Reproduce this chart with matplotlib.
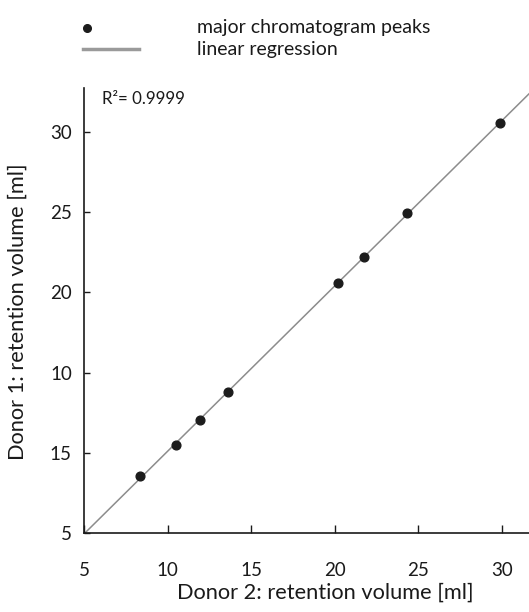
import numpy as np
import matplotlib
matplotlib.use("Agg")
import matplotlib.pyplot as plt
from matplotlib.lines import Line2D

plt.rcParams['font.family'] = ['Lato', 'DejaVu Sans']

# retention volumes of the major chromatogram peaks [ml]
donor2 = [8.34, 10.47, 11.93, 13.60, 20.19, 21.75, 24.32, 29.89]
donor1 = [8.55, 10.48, 12.04, 13.80, 20.58, 22.21, 24.94, 30.55]

tick_pos = [5, 10, 15, 20, 25, 30]
x_labels = ["5", "10", "15", "20", "25", "30"]
y_labels = ["5", "15", "10", "20", "25", "30"]  # as printed in the original figure
r2_text = "R\u00b2= 0.9999"

fig = plt.figure(figsize=(5.29, 6.12), dpi=100)
ax = fig.add_axes([0.1594, 0.129, 0.8406, 0.727])

xlim = (5, 31.63)
ylim = (5, 32.73)

# regression line
slope, intercept = np.polyfit(donor2, donor1, 1)
xs = np.array(xlim)
ax.plot(xs, slope * xs + intercept, color='#8c8c8c', lw=1.1, zorder=1)
ax.plot(donor2, donor1, 'o', color='#1c1c1c', markersize=6.3, zorder=2)

ax.set_xlim(*xlim)
ax.set_ylim(*ylim)
ax.spines['top'].set_visible(False)
ax.spines['right'].set_visible(False)
for s in ['left', 'bottom']:
    ax.spines[s].set_linewidth(1.2)
    ax.spines[s].set_color('#1a1a1a')

ax.set_xticks(tick_pos)
ax.set_xticklabels(x_labels)
ax.set_yticks(tick_pos)
ax.set_yticklabels(y_labels)
ax.tick_params(axis='x', direction='in', length=6, width=1, pad=21, labelsize=13.5, colors='#1a1a1a')
ax.tick_params(axis='y', direction='in', length=4, width=1, pad=9, labelsize=13.5, colors='#1a1a1a')

ax.set_xlabel("Donor 2: retention volume [ml]", fontsize=15.7, color='#1a1a1a')
ax.xaxis.set_label_coords(0.541, -0.133)
ax.xaxis.label.set_va('center')
ax.set_ylabel("Donor 1: retention volume [ml]", fontsize=15.7, color='#1a1a1a')
ax.yaxis.set_label_coords(-0.149, 0.497)
ax.yaxis.label.set_va('center')

ax.text(0.04, 0.976, r2_text, transform=ax.transAxes, fontsize=12.2,
        va='center', ha='left', color='#1a1a1a')

# legend above the plot
W, H = 529.0, 612.0
fig.add_artist(Line2D([87 / W], [1 - 28 / H], marker='o', color='#1c1c1c',
                      markersize=5.5, linestyle='none'))
fig.add_artist(Line2D([83 / W, 139 / W], [1 - 49 / H, 1 - 49 / H],
                      color='#9a9a9a', lw=2.5))
fig.text(197 / W, 1 - 27 / H, "major chromatogram peaks", fontsize=14,
         va='center', ha='left', color='#1a1a1a')
fig.text(197 / W, 1 - 50 / H, "linear regression", fontsize=14,
         va='center', ha='left', color='#1a1a1a')

fig.savefig("out.png", dpi=100)
